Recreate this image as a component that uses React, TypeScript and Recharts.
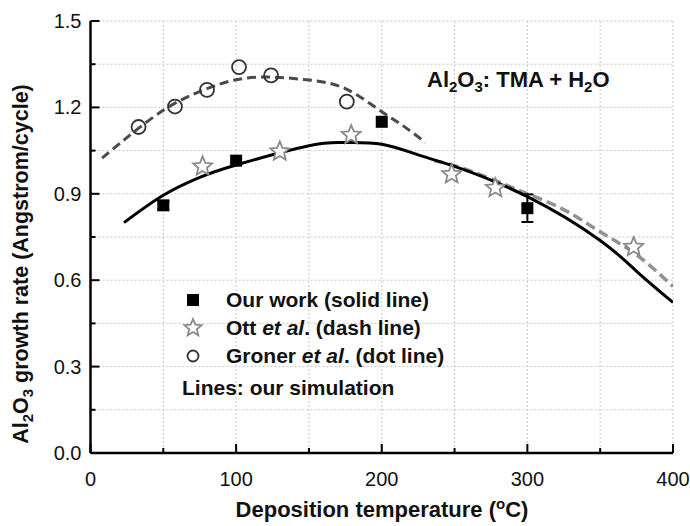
import React from "react";
import {
  ComposedChart,
  Line,
  Scatter,
  XAxis,
  YAxis,
  CartesianGrid,
  ErrorBar,
  Customized,
} from "recharts";

const FONT = "'Liberation Sans', Arial, Helvetica, sans-serif";

const xTicks = [0, 50, 100, 150, 200, 250, 300, 350, 400];
const yTicks = [0, 0.15, 0.3, 0.45, 0.6, 0.75, 0.9, 1.05, 1.2, 1.35, 1.5];

// measured growth rates
const ourWorkT = [50, 100, 200, 300];
const ourWorkRate = [0.86, 1.015, 1.15, 0.85];
const ourWorkErr = [0.015, 0, 0, 0.048];

const ottT = [77, 130, 179, 248, 278, 373];
const ottRate = [0.995, 1.047, 1.104, 0.968, 0.92, 0.715];

const gronerT = [33, 58, 80, 102, 124, 176];
const gronerRate = [1.132, 1.203, 1.261, 1.34, 1.311, 1.22];

// simulation curves
const ourSimT = [23, 50, 75, 100, 150, 175, 200, 225, 250, 300, 350, 375, 400];
const ourSimRate = [0.8, 0.895, 0.957, 1.0, 1.067, 1.078, 1.072, 1.035, 0.995, 0.89, 0.738, 0.631, 0.523];

const ottSimT = [236, 250, 275, 300, 325, 350, 375, 400];
const ottSimRate = [1.015, 0.998, 0.952, 0.9, 0.845, 0.768, 0.688, 0.578];

const gronerSimT = [8, 25, 50, 75, 100, 125, 150, 175, 200, 215, 230];
const gronerSimRate = [1.024, 1.095, 1.19, 1.255, 1.296, 1.305, 1.295, 1.265, 1.185, 1.135, 1.078];

const pts = (ts: number[], vs: number[], errs?: number[]) =>
  ts.map((t, i) => ({ t, v: vs[i], err: errs ? errs[i] : 0 }));

const BottomTick = (props: any) => {
  const { x, y, payload } = props;
  const major = payload.value % 100 === 0;
  return (
    <g>
      <line x1={x} x2={x} y1={y} y2={y - (major ? 9 : 5)} stroke="#000" strokeWidth={2} />
      {major && (
        <text x={x} y={y + 33} textAnchor="middle" fontSize={20} fontFamily={FONT} fill="#111">
          {payload.value}
        </text>
      )}
    </g>
  );
};

const TopTick = (props: any) => {
  const { x, y, payload } = props;
  const major = payload.value % 100 === 0;
  return <line x1={x} x2={x} y1={y} y2={y + (major ? 9 : 5)} stroke="#000" strokeWidth={2} />;
};

const LeftTick = (props: any) => {
  const { x, y, payload } = props;
  const major = Math.round(payload.value * 100) % 30 === 0;
  return (
    <g>
      <line x1={x} x2={x + (major ? 9 : 5)} y1={y} y2={y} stroke="#000" strokeWidth={2} />
      {major && (
        <text x={x - 9} y={y + 7} textAnchor="end" fontSize={20} fontFamily={FONT} fill="#111">
          {payload.value.toFixed(1)}
        </text>
      )}
    </g>
  );
};

const RightTick = (props: any) => {
  const { x, y, payload } = props;
  const major = Math.round(payload.value * 100) % 30 === 0;
  return <line x1={x} x2={x - (major ? 9 : 5)} y1={y} y2={y} stroke="#000" strokeWidth={2} />;
};

const starPath = (cx: number, cy: number, R: number) => {
  const r = R * 0.45;
  let d = "";
  for (let i = 0; i < 10; i++) {
    const a = -Math.PI / 2 + (i * Math.PI) / 5;
    const rad = i % 2 === 0 ? R : r;
    d += (i === 0 ? "M" : "L") + (cx + rad * Math.cos(a)).toFixed(2) + "," + (cy + rad * Math.sin(a)).toFixed(2);
  }
  return d + "Z";
};

const SquareShape = (p: any) => <rect x={p.cx - 6} y={p.cy - 6} width={12} height={12} fill="#000" />;
const StarShape = (p: any) => <path d={starPath(p.cx, p.cy, 10)} fill="#fff" stroke="#8a8a8a" strokeWidth={1.8} />;
const CircleShape = (p: any) => <circle cx={p.cx} cy={p.cy} r={7} fill="none" stroke="#333" strokeWidth={1.8} />;

const Overlay = () => (
  <g fontFamily={FONT} fontWeight="bold" fill="#111">
    <text x={382} y={517} textAnchor="middle" fontSize={22}>
      Deposition temperature (<tspan dy={-8} fontSize={15}>o</tspan>
      <tspan dy={8}>C)</tspan>
    </text>
    <text x={28} y={264} textAnchor="middle" fontSize={21.5} transform="rotate(-90, 28, 264)">
      Al<tspan dy={5} fontSize={15}>2</tspan>
      <tspan dy={-5}>O</tspan>
      <tspan dy={5} fontSize={15}>3</tspan>
      <tspan dy={-5}> growth rate (Angstrom/cycle)</tspan>
    </text>
    <text x={427} y={87} fontSize={22}>
      Al<tspan dy={5} fontSize={15}>2</tspan>
      <tspan dy={-5}>O</tspan>
      <tspan dy={5} fontSize={15}>3</tspan>
      <tspan dy={-5}>: TMA + H</tspan>
      <tspan dy={5} fontSize={15}>2</tspan>
      <tspan dy={-5}>O</tspan>
    </text>
    <rect x={187} y={294} width={12} height={12} fill="#000" />
    <text x={226} y={307} fontSize={21}>Our work (solid line)</text>
    <path d={starPath(193, 328, 9)} fill="#fff" stroke="#8a8a8a" strokeWidth={1.8} />
    <text x={226} y={335} fontSize={21}>
      Ott <tspan fontStyle="italic">et al</tspan>. (dash line)
    </text>
    <circle cx={193} cy={356} r={5.5} fill="none" stroke="#333" strokeWidth={1.8} />
    <text x={226} y={363} fontSize={21}>
      Groner <tspan fontStyle="italic">et al</tspan>. (dot line)
    </text>
    <text x={182} y={395} fontSize={21}>Lines: our simulation</text>
  </g>
);

export default function App() {
  return (
    <div style={{ position: "absolute", left: 0, top: 0, background: "#fff" }}>
      <ComposedChart width={690} height={526} margin={{ top: 21, right: 17, bottom: 0, left: 0 }}>
        <CartesianGrid xAxisId="bottom" yAxisId="left" stroke="#c8c8c8" strokeDasharray="2 2" />
        <XAxis
          xAxisId="bottom"
          dataKey="t"
          type="number"
          domain={[0, 400]}
          ticks={xTicks}
          interval={0}
          allowDataOverflow
          height={73}
          tickSize={0}
          tickMargin={0}
          tickLine={false}
          tick={BottomTick}
          axisLine={{ stroke: "#000", strokeWidth: 2.5 }}
        />
        <XAxis
          xAxisId="top"
          orientation="top"
          dataKey="t"
          type="number"
          domain={[0, 400]}
          ticks={xTicks}
          interval={0}
          allowDataOverflow
          height={0}
          tickSize={0}
          tickMargin={0}
          tickLine={false}
          tick={TopTick}
          axisLine={{ stroke: "#000", strokeWidth: 2.5 }}
        />
        <YAxis
          yAxisId="left"
          dataKey="v"
          type="number"
          domain={[0, 1.5]}
          ticks={yTicks}
          interval={0}
          allowDataOverflow
          width={90.5}
          tickSize={0}
          tickMargin={0}
          tickLine={false}
          tick={LeftTick}
          axisLine={{ stroke: "#000", strokeWidth: 2.5 }}
        />
        <YAxis
          yAxisId="right"
          orientation="right"
          dataKey="v"
          type="number"
          domain={[0, 1.5]}
          ticks={yTicks}
          interval={0}
          allowDataOverflow
          width={0}
          tickSize={0}
          tickMargin={0}
          tickLine={false}
          tick={RightTick}
          axisLine={{ stroke: "#000", strokeWidth: 2.5 }}
        />
        <Line
          xAxisId="bottom"
          yAxisId="left"
          data={pts(gronerSimT, gronerSimRate)}
          dataKey="v"
          type="natural"
          stroke="#4a4a4a"
          strokeWidth={3}
          strokeDasharray="9 5"
          dot={false}
          activeDot={false}
          isAnimationActive={false}
        />
        <Line
          xAxisId="bottom"
          yAxisId="left"
          data={pts(ottSimT, ottSimRate)}
          dataKey="v"
          type="natural"
          stroke="#929292"
          strokeWidth={3.5}
          strokeDasharray="10 5"
          dot={false}
          activeDot={false}
          isAnimationActive={false}
        />
        <Line
          xAxisId="bottom"
          yAxisId="left"
          data={pts(ourSimT, ourSimRate)}
          dataKey="v"
          type="natural"
          stroke="#000"
          strokeWidth={3}
          dot={false}
          activeDot={false}
          isAnimationActive={false}
        />
        <Scatter
          xAxisId="bottom"
          yAxisId="left"
          data={pts(gronerT, gronerRate)}
          dataKey="v"
          shape={CircleShape}
          isAnimationActive={false}
        />
        <Scatter
          xAxisId="bottom"
          yAxisId="left"
          data={pts(ottT, ottRate)}
          dataKey="v"
          shape={StarShape}
          isAnimationActive={false}
        />
        <Scatter
          xAxisId="bottom"
          yAxisId="left"
          data={pts(ourWorkT, ourWorkRate, ourWorkErr)}
          dataKey="v"
          shape={SquareShape}
          isAnimationActive={false}
        >
          <ErrorBar dataKey="err" direction="y" width={6} stroke="#000" strokeWidth={2} />
        </Scatter>
        <Customized component={Overlay} />
      </ComposedChart>
    </div>
  );
}
